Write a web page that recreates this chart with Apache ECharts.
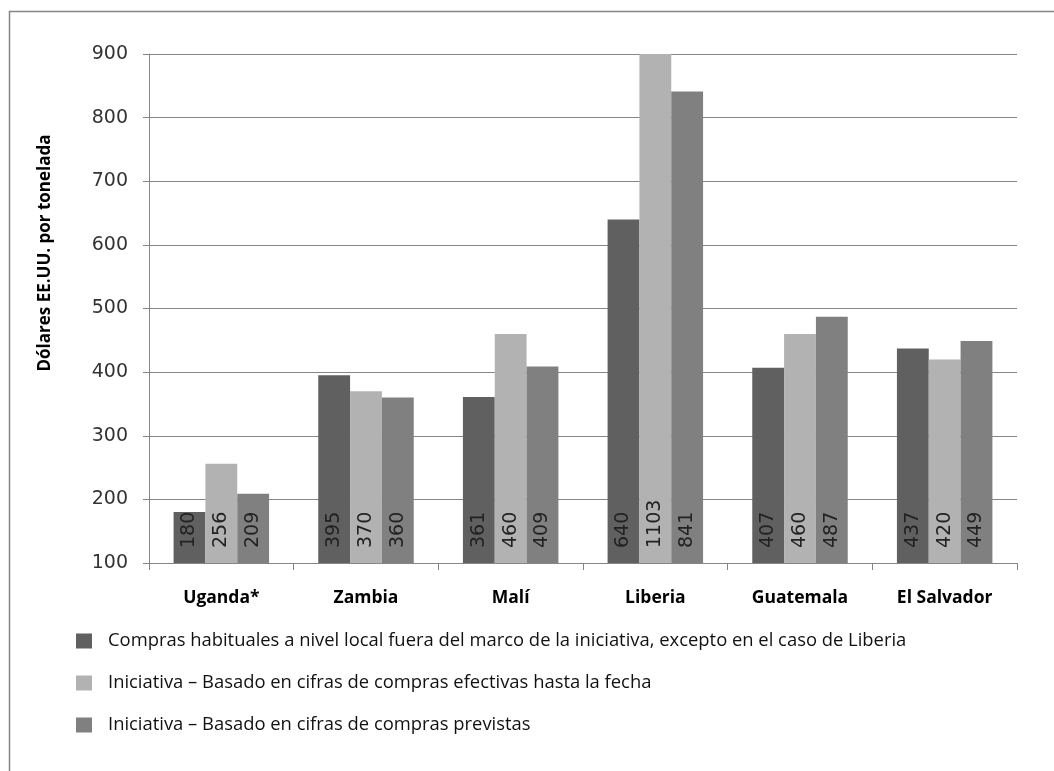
<!DOCTYPE html>
<html>
<head>
<meta charset="utf-8">
<script src="https://cdn.jsdelivr.net/npm/echarts@6/dist/echarts.min.js"></script>
<style>
html,body{margin:0;padding:0;background:#fff;}
#chart{width:1054px;height:771px;}
</style>
</head>
<body>
<div id="chart"></div>
<script>
var categories = ['Uganda*', 'Zambia', 'Malí', 'Liberia', 'Guatemala', 'El Salvador'];
var seriesNames = [
  'Compras habituales a nivel local fuera del marco de la iniciativa, excepto en el caso de Liberia',
  'Iniciativa – Basado en cifras de compras efectivas hasta la fecha',
  'Iniciativa – Basado en cifras de compras previstas'
];
var habituales = [180, 395, 361, 640, 407, 437];
var efectivas = [256, 370, 460, 1103, 460, 420];
var previstas = [209, 360, 409, 841, 487, 449];
var yTicks = [100, 200, 300, 400, 500, 600, 700, 800, 900];
var colors = ['#606060', '#b2b2b2', '#808080'];

var chart = echarts.init(document.getElementById('chart'));
var font = '"Open Sans", "DejaVu Sans", sans-serif';

function mkSeries(name, data, color) {
  return {
    name: name,
    type: 'bar',
    data: data,
    barGap: '0%',
    barCategoryGap: '34%',
    itemStyle: { color: color },
    label: {
      show: true,
      position: 'insideBottom',
      rotate: 90,
      align: 'left',
      verticalAlign: 'middle',
      distance: 15,
      color: '#222',
      fontFamily: '"DejaVu Sans", sans-serif',
      fontSize: 19
    }
  };
}

chart.setOption({
  animation: false,
  backgroundColor: '#fff',
  graphic: [
    { type: 'rect', shape: { x: 9.5, y: 11.5, width: 1100, height: 800 },
      style: { fill: 'none', stroke: '#868686', lineWidth: 1.5 }, z: -1 },
    { type: 'text', x: 45, y: 253, rotation: Math.PI / 2,
      style: { text: 'Dólares EE.UU. por tonelada', fill: '#000',
        font: 'bold 17px "Open Sans", sans-serif', align: 'center', verticalAlign: 'middle' } }
  ],
  legend: {
    orient: 'vertical',
    left: 71,
    top: 627,
    itemWidth: 16,
    itemHeight: 15,
    itemGap: 24,
    icon: 'rect',
    data: seriesNames,
    textStyle: { fontFamily: font, fontSize: 18.4, lineHeight: 18, color: '#111', padding: [0, 0, 0, 11] }
  },
  grid: { left: 149, right: 37, top: 54, bottom: 208, containLabel: false },
  xAxis: {
    type: 'category',
    data: categories,
    boundaryGap: true,
    axisLine: { lineStyle: { color: '#868686', width: 1 } },
    axisTick: { show: true, length: 7, lineStyle: { color: '#868686' } },
    axisLabel: { fontFamily: font, fontWeight: 'bold', fontSize: 17.5, color: '#000', margin: 26 }
  },
  yAxis: {
    type: 'value',
    min: yTicks[0],
    max: yTicks[yTicks.length - 1],
    interval: 100,
    axisLine: { show: true, lineStyle: { color: '#868686' } },
    axisTick: { show: true, length: 6, lineStyle: { color: '#868686' } },
    splitLine: { lineStyle: { color: '#868686', width: 1 } },
    axisLabel: { fontFamily: '"DejaVu Sans", sans-serif', fontSize: 19, color: '#333', margin: 21 }
  },
  series: [
    mkSeries(seriesNames[0], habituales, colors[0]),
    mkSeries(seriesNames[1], efectivas, colors[1]),
    mkSeries(seriesNames[2], previstas, colors[2])
  ]
});
</script>
</body>
</html>
